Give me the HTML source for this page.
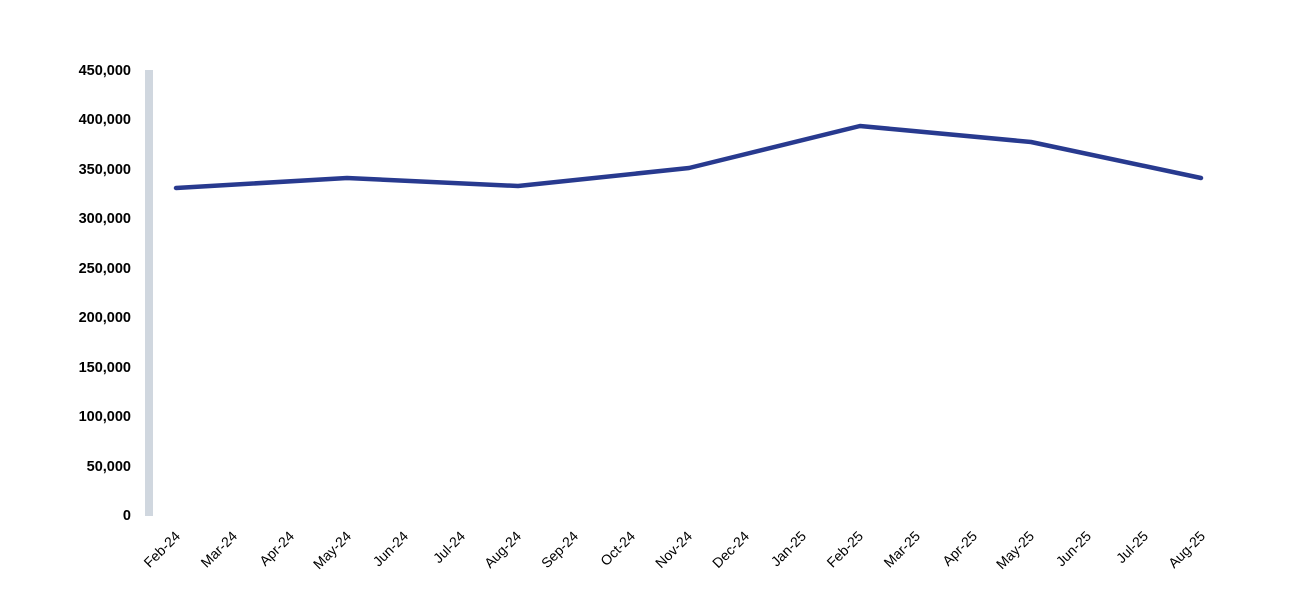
<!DOCTYPE html>
<html><head><meta charset="utf-8"><style>
body{margin:0;background:#fff;}
svg text{font-family:"Liberation Sans",sans-serif;}
</style></head><body>
<svg width="1310" height="595" xmlns="http://www.w3.org/2000/svg">
<rect x="145" y="70" width="8" height="446" fill="#d0d7df"/>
<g font-size="14.5" font-weight="bold" text-anchor="end" fill="#000">
<text x="131" y="520">0</text>
<text x="131" y="471">50,000</text>
<text x="131" y="421">100,000</text>
<text x="131" y="372">150,000</text>
<text x="131" y="322">200,000</text>
<text x="131" y="273">250,000</text>
<text x="131" y="223">300,000</text>
<text x="131" y="174">350,000</text>
<text x="131" y="124">400,000</text>
<text x="131" y="75">450,000</text>
</g>
<g font-size="14" text-anchor="end" fill="#000">
<text transform="translate(181,537) rotate(-45)">Feb-24</text>
<text transform="translate(238,537) rotate(-45)">Mar-24</text>
<text transform="translate(295,537) rotate(-45)">Apr-24</text>
<text transform="translate(352,537) rotate(-45)">May-24</text>
<text transform="translate(409,537) rotate(-45)">Jun-24</text>
<text transform="translate(466,537) rotate(-45)">Jul-24</text>
<text transform="translate(522,537) rotate(-45)">Aug-24</text>
<text transform="translate(579,537) rotate(-45)">Sep-24</text>
<text transform="translate(636,537) rotate(-45)">Oct-24</text>
<text transform="translate(693,537) rotate(-45)">Nov-24</text>
<text transform="translate(750,537) rotate(-45)">Dec-24</text>
<text transform="translate(807,537) rotate(-45)">Jan-25</text>
<text transform="translate(864,537) rotate(-45)">Feb-25</text>
<text transform="translate(921,537) rotate(-45)">Mar-25</text>
<text transform="translate(978,537) rotate(-45)">Apr-25</text>
<text transform="translate(1035,537) rotate(-45)">May-25</text>
<text transform="translate(1092,537) rotate(-45)">Jun-25</text>
<text transform="translate(1149,537) rotate(-45)">Jul-25</text>
<text transform="translate(1206,537) rotate(-45)">Aug-25</text>
</g>
<polyline fill="none" stroke="#283a8f" stroke-width="4.5" stroke-linejoin="round" stroke-linecap="round"
points="176,188 347,178 518,186 689,168 860,126 1031,142 1201,178"/>
</svg>
</body></html>
